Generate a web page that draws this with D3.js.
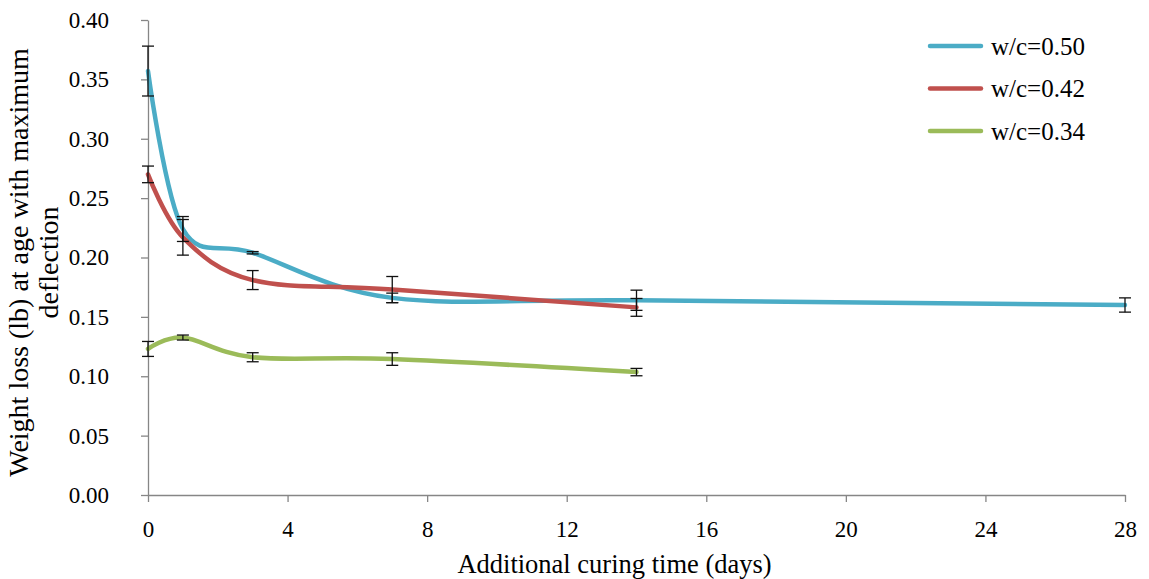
<!DOCTYPE html>
<html>
<head>
<meta charset="utf-8">
<script src="https://cdn.jsdelivr.net/npm/d3@7"></script>
<style>
  body { margin: 0; background: #fff; }
  #chart { width: 1149px; height: 579px; }
  svg text { font-family: "Liberation Serif", "Times New Roman", serif !important; fill: #000; }
  .axis path, .axis line { stroke: #868686; stroke-width: 1.3; }
</style>
</head>
<body>
<div id="chart"></div>
<script>
// data
const seriesNames = ["w/c=0.50", "w/c=0.42", "w/c=0.34"];
const seriesColors = ["#4BACC6", "#C0504D", "#9BBB59"];

const daysA = [0, 1, 3, 7, 14, 28];
const valuesA = [0.357, 0.224, 0.204, 0.166, 0.164, 0.160];
const errA = [0.021, 0.0105, 0.001, 0.004, 0.0085, 0.006];

const daysB = [0, 1, 3, 7, 14];
const valuesB = [0.270, 0.217, 0.181, 0.173, 0.158];
const errB = [0.007, 0.015, 0.008, 0.011, 0.0075];

const daysC = [0, 1, 3, 7, 14];
const valuesC = [0.123, 0.1326, 0.116, 0.1145, 0.1035];
const errC = [0.0063, 0.0021, 0.0038, 0.0053, 0.0031];

const xTicks = [0, 4, 8, 12, 16, 20, 24, 28];
const yTicks = [0, 0.05, 0.10, 0.15, 0.20, 0.25, 0.30, 0.35, 0.40];

const series = [
  {name: seriesNames[0], color: seriesColors[0], pts: daysA.map((d, i) => ({x: d, y: valuesA[i], e: errA[i]}))},
  {name: seriesNames[1], color: seriesColors[1], pts: daysB.map((d, i) => ({x: d, y: valuesB[i], e: errB[i]}))},
  {name: seriesNames[2], color: seriesColors[2], pts: daysC.map((d, i) => ({x: d, y: valuesC[i], e: errC[i]}))}
];

const margin = {top: 20, right: 24, bottom: 84, left: 148};
const width = 1149 - margin.left - margin.right;
const height = 579 - margin.top - margin.bottom;

const svg = d3.select("#chart").append("svg")
  .attr("width", 1149)
  .attr("height", 579)
  .append("g")
  .attr("transform", "translate(" + margin.left + "," + margin.top + ")");

const x = d3.scaleLinear().domain([0, 28]).range([0, width]);
const y = d3.scaleLinear().domain([0, 0.4]).range([height, 0]);

// axes
const xAxis = svg.append("g")
  .attr("class", "axis")
  .attr("transform", "translate(0," + height + ")")
  .call(d3.axisBottom(x).tickValues(xTicks).tickSize(7).tickSizeOuter(0).tickPadding(19));
xAxis.attr("font-family", "Liberation Serif").attr("font-size", 23);
xAxis.selectAll("text").attr("font-family", "Liberation Serif").attr("font-size", 23);

const yAxis = svg.append("g")
  .attr("class", "axis")
  .call(d3.axisLeft(y).tickValues(yTicks).tickFormat(d3.format(".2f")).tickSize(7).tickSizeOuter(0).tickPadding(32));
yAxis.attr("font-family", "Liberation Serif").attr("font-size", 23);
yAxis.selectAll("text").attr("font-family", "Liberation Serif").attr("font-size", 23);

// lines
const line = d3.line()
  .curve(d3.curveCardinal.tension(0))
  .x(d => x(d.x))
  .y(d => y(d.y));

svg.selectAll(".series")
  .data(series)
  .join("path")
  .attr("class", "series")
  .attr("fill", "none")
  .attr("stroke", d => d.color)
  .attr("stroke-width", 4.5)
  .attr("stroke-linecap", "round")
  .attr("d", d => line(d.pts));

// error bars
const capW = 6;
series.forEach(s => {
  const g = svg.append("g").attr("stroke", "#111").attr("stroke-width", 1.3);
  s.pts.forEach(p => {
    const cx = x(p.x), y1 = y(p.y + p.e), y2 = y(p.y - p.e);
    g.append("line").attr("x1", cx).attr("x2", cx).attr("y1", y1).attr("y2", y2);
    g.append("line").attr("x1", cx - capW).attr("x2", cx + capW).attr("y1", y1).attr("y2", y1);
    g.append("line").attr("x1", cx - capW).attr("x2", cx + capW).attr("y1", y2).attr("y2", y2);
  });
});

// axis titles
svg.append("text")
  .attr("x", width / 2 - 22)
  .attr("y", height + 78)
  .attr("text-anchor", "middle")
  .style("font-size", "26.5px")
  .text("Additional curing time (days)");

const yTitle = svg.append("text")
  .attr("transform", "translate(" + (-120) + "," + (height / 2 + 5) + ") rotate(-90)")
  .attr("text-anchor", "middle")
  .style("font-size", "28px");
yTitle.append("tspan").attr("x", 0).attr("dy", 0).text("Weight loss (lb) at age with maximum");
yTitle.append("tspan").attr("x", 0).attr("dy", 30).text("deflection");

// legend
const legend = svg.append("g").attr("transform", "translate(" + (930 - margin.left) + "," + (46 - margin.top) + ")");
series.forEach((s, i) => {
  const row = legend.append("g").attr("transform", "translate(0," + i * 42.5 + ")");
  row.append("line")
    .attr("x1", 0).attr("x2", 51)
    .attr("stroke", s.color).attr("stroke-width", 4.5).attr("stroke-linecap", "round");
  row.append("text")
    .attr("x", 61).attr("y", 0).attr("dy", "0.35em")
    .style("font-size", "25px")
    .text(s.name);
});
</script>
</body>
</html>
